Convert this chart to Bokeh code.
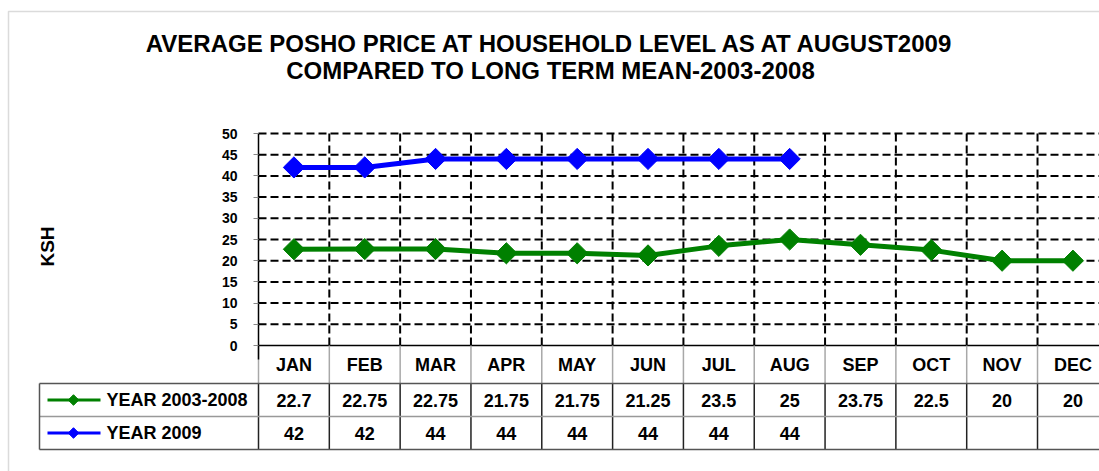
import numpy as np
from bokeh.plotting import figure
from bokeh.models import (Range1d, FixedTicker, ColumnDataSource, Label, BoxAnnotation,
                          LinearAxis)
from bokeh.embed import file_html
from bokeh.resources import INLINE
from bokeh.core.properties import value

# ---------------- data ----------------
months = ["JAN", "FEB", "MAR", "APR", "MAY", "JUN", "JUL", "AUG", "SEP", "OCT", "NOV", "DEC"]
mean_2003_2008 = [22.7, 22.75, 22.75, 21.75, 21.75, 21.25, 23.5, 25, 23.75, 22.5, 20, 20]
year_2009 = [42, 42, 44, 44, 44, 44, 44, 44]
series_names = ["YEAR 2003-2008", "YEAR 2009"]
y_ticks = [0, 5, 10, 15, 20, 25, 30, 35, 40, 45, 50]
title_lines = ["AVERAGE POSHO PRICE AT HOUSEHOLD LEVEL AS AT AUGUST2009",
               "COMPARED TO LONG TERM MEAN-2003-2008"]
y_label = "KSH"

GREEN = "#008000"
BLUE = "#0000FF"
series_colors = [GREEN, BLUE]
FONT = "Liberation Sans"

# ---------------- layout (the plot frame covers the whole canvas) ----------------
W, H = 1099, 471
AX_X, ZERO_Y = 258.0, 345.0     # pixel position of the y axis and of y = 0
PX_X = 70.82                    # pixels per month column
PX_Y = 212.0 / 50.0             # pixels per KSH

def page_x(px):
    return (px - AX_X) / PX_X

def page_y(py):
    return (ZERO_Y - py) / PX_Y

x_range = Range1d(page_x(0), page_x(W))
y_range = Range1d(page_y(H), page_y(0))

y_head = page_y(383)
y_row1 = page_y(416)
y_row2 = page_y(449)
x_tab = page_x(39)
n = len(months)
y_max = y_ticks[-1]

p = figure(width=W, height=H, x_range=x_range, y_range=y_range,
           output_backend="svg", toolbar_location=None,
           x_axis_location=None, y_axis_location=None, min_border=0,
           outline_line_color=None, background_fill_color="white",
           border_fill_color="white")
p.grid.visible = False

# dashed grid inside the plot area
gy = y_ticks[1:]
p.segment(x0=[0] * len(gy), y0=gy, x1=[n] * len(gy), y1=gy,
          line_color="black", line_width=2, line_dash="8 4")
vb = list(range(1, n))
p.segment(x0=vb, y0=[0] * len(vb), x1=vb, y1=[y_max] * len(vb),
          line_color="black", line_width=2, line_dash="8 4")
p.segment(x0=[0], y0=[0], x1=[n], y1=[0], line_color="black", line_width=1.5)

# ---------------- data table ----------------
hb = list(range(0, n + 1))
p.segment(x0=hb, y0=[0] * len(hb), x1=hb, y1=[y_head] * len(hb),
          line_color="#a8a8a8", line_width=1.5)
rb = list(range(0, n + 1))
p.segment(x0=rb, y0=[y_head] * len(rb), x1=rb, y1=[y_row2] * len(rb),
          line_color="#222222", line_width=1.5)
p.segment(x0=[x_tab] * 3, y0=[y_head, y_row1, y_row2], x1=[n] * 3,
          y1=[y_head, y_row1, y_row2],
          line_color=["#555555", "#999999", "#555555"], line_width=1.5)
p.segment(x0=[x_tab], y0=[y_head], x1=[x_tab], y1=[y_row2],
          line_color="#555555", line_width=1.5)

xc = [i + 0.5 for i in range(n)]
txt = dict(text_font=value(FONT), text_font_style="bold", text_font_size="18px",
           text_baseline="middle", text_color="black")
row_y = [(y_head + y_row1) / 2, (y_row1 + y_row2) / 2]
p.text(x=xc, y=[y_head / 2] * n, text=months, text_align="center", **txt)
p.text(x=xc, y=[row_y[0]] * n, text=[f"{v:g}" for v in mean_2003_2008],
       text_align="center", **txt)
p.text(x=xc[:len(year_2009)], y=[row_y[1]] * len(year_2009),
       text=[f"{v:g}" for v in year_2009], text_align="center", **txt)

# legend keys in the first table column
p.segment(x0=[page_x(47)] * 2, y0=row_y, x1=[page_x(100)] * 2, y1=row_y,
          line_color=series_colors, line_width=3)
p.scatter(x=[page_x(73)] * 2, y=row_y, marker="square", angle=np.pi / 4, size=7.5,
          fill_color=series_colors, line_color=series_colors)
p.text(x=[page_x(106)] * 2, y=row_y, text=series_names, text_align="left", **txt)

# ---------------- series ----------------
s1 = ColumnDataSource(dict(x=xc, y=mean_2003_2008))
s2 = ColumnDataSource(dict(x=xc[:len(year_2009)], y=year_2009))
p.line("x", "y", source=s1, line_color=GREEN, line_width=5)
p.scatter("x", "y", source=s1, marker="square", angle=np.pi / 4, size=15,
          fill_color=GREEN, line_color=GREEN)
p.line("x", "y", source=s2, line_color=BLUE, line_width=5)
p.scatter("x", "y", source=s2, marker="square", angle=np.pi / 4, size=15,
          fill_color=BLUE, line_color=BLUE)

# ---------------- y axis (fixed at the first column edge) ----------------
ax = LinearAxis(fixed_location=0, ticker=FixedTicker(ticks=y_ticks, minor_ticks=[]),
                bounds=(page_y(359), y_max))
ax.axis_line_color = "black"
ax.axis_line_width = 1.5
ax.major_tick_out = 5
ax.major_tick_in = 0
ax.major_tick_line_color = "#888888"
ax.minor_tick_line_color = None
ax.major_label_text_font = FONT
ax.major_label_text_font_style = "bold"
ax.major_label_text_font_size = "14px"
ax.major_label_text_color = "black"
ax.major_label_standoff = 16
ax.axis_label = y_label
ax.axis_label_text_font = FONT
ax.axis_label_text_font_style = "bold"
ax.axis_label_text_font_size = "19px"
ax.axis_label_text_color = "black"
ax.axis_label_standoff = 161
p.add_layout(ax, "left")

# ---------------- title ----------------
for i, t in enumerate(title_lines):
    p.add_layout(Label(x=page_x(550), y=page_y(43 + 27 * i), text=t, text_align="center",
                       text_baseline="middle", text_font=FONT, text_font_style="bold",
                       text_font_size="24px", text_color="black"))

# outer border of the chart area
p.add_layout(BoxAnnotation(left=page_x(8), right=page_x(W + 50), top=page_y(11),
                           bottom=page_y(H + 50), fill_alpha=0,
                           line_color="#888888", line_width=1.5))

open("out.html", "w").write(file_html(p, INLINE))
